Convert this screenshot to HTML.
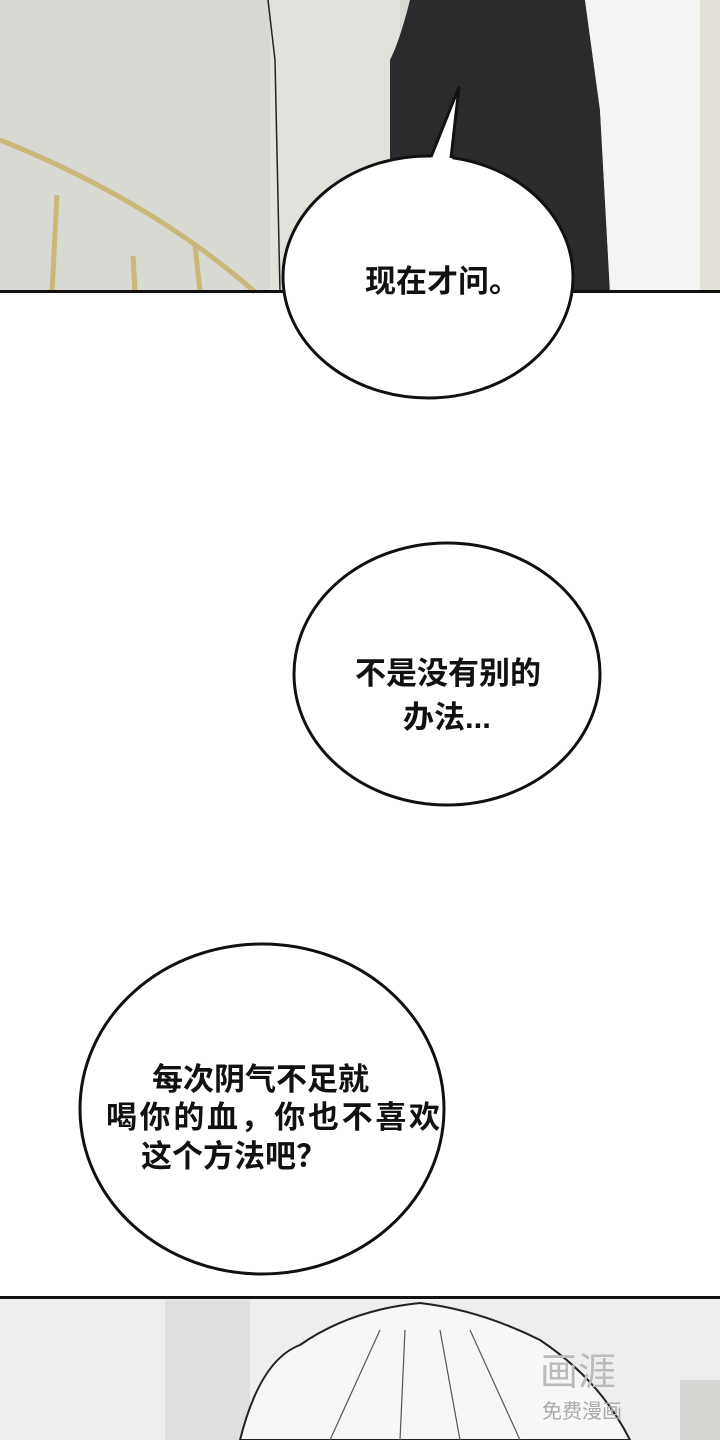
<!DOCTYPE html>
<html><head><meta charset="utf-8"><style>
html,body{margin:0;padding:0;background:#fff;}
svg{display:block;}
text{font-family:"Liberation Sans","Noto Sans CJK SC",sans-serif;font-weight:bold;font-size:31px;fill:#111;}
</style></head><body>
<svg width="720" height="1440" viewBox="0 0 720 1440" xmlns="http://www.w3.org/2000/svg">
<rect x="0" y="0" width="720" height="292" fill="#d9d9d3"/>
<rect x="270" y="0" width="130" height="292" fill="#e2e2dc"/>
<path d="M268 0 L275 60 L280 292" stroke="#222" stroke-width="1.5" fill="none"/>
<path d="M390 60 Q400 40 410 0 L585 0 L600 110 L610 292 L390 292 Z" fill="#2b2b2e"/>
<path d="M585 0 L600 110 L610 292 L640 292 L700 292 L715 260 L700 0 Z" fill="#f4f4f4"/>
<rect x="700" y="0" width="20" height="292" fill="#e3e0d8"/>
<path d="M0 140 Q150 200 255 292" stroke="#c9b87a" stroke-width="5" fill="none"/>
<path d="M57 195 L52 292 M133 256 L135 292 M195 245 L200 292" stroke="#c9b87a" stroke-width="5" fill="none"/>
<rect x="0" y="290" width="720" height="3" fill="#111"/>
<ellipse cx="428" cy="277" rx="145" ry="121" fill="#fff" stroke="#111" stroke-width="3"/>
<path d="M430 160 L459 87 L452 162 Z" fill="#fff"/>
<path d="M431 157 L459 87 L451 158" stroke="#111" stroke-width="3" fill="none"/>
<text x="365" y="292">现在才问。</text>
<ellipse cx="447" cy="674" rx="153" ry="131" fill="#fff" stroke="#111" stroke-width="3"/>
<text x="355" y="684">不是没有别的</text>
<text x="403" y="728">办法...</text>
<ellipse cx="262" cy="1109" rx="182" ry="165" fill="#fff" stroke="#111" stroke-width="3"/>
<text x="152" y="1090">每次阴气不足就</text>
<text x="106" y="1128" textLength="334">喝你的血，你也不喜欢</text>
<text x="141" y="1167">这个方法吧？</text>
<rect x="0" y="1298" width="720" height="142" fill="#eeeeee"/>
<rect x="165" y="1300" width="85" height="140" fill="#e0e0e0"/>
<rect x="680" y="1380" width="40" height="60" fill="#d8d6d2"/>
<path d="M240 1440 Q260 1360 300 1345 Q350 1310 420 1303 Q480 1310 540 1340 Q600 1380 630 1440 Z" fill="#f7f7f7" stroke="#222" stroke-width="2"/>
<path d="M330 1440 L380 1330 M400 1440 L405 1330 M460 1440 L440 1330 M520 1440 L470 1330" stroke="#555" stroke-width="1.2" fill="none"/>
<rect x="0" y="1296" width="720" height="3" fill="#111"/>
<text x="540" y="1385" style="font-size:38px;fill:#bbb;font-weight:normal">画涯</text>
<text x="542" y="1418" style="font-size:20px;fill:#aaa;font-weight:normal">免费漫画</text>
</svg>
</body></html>
